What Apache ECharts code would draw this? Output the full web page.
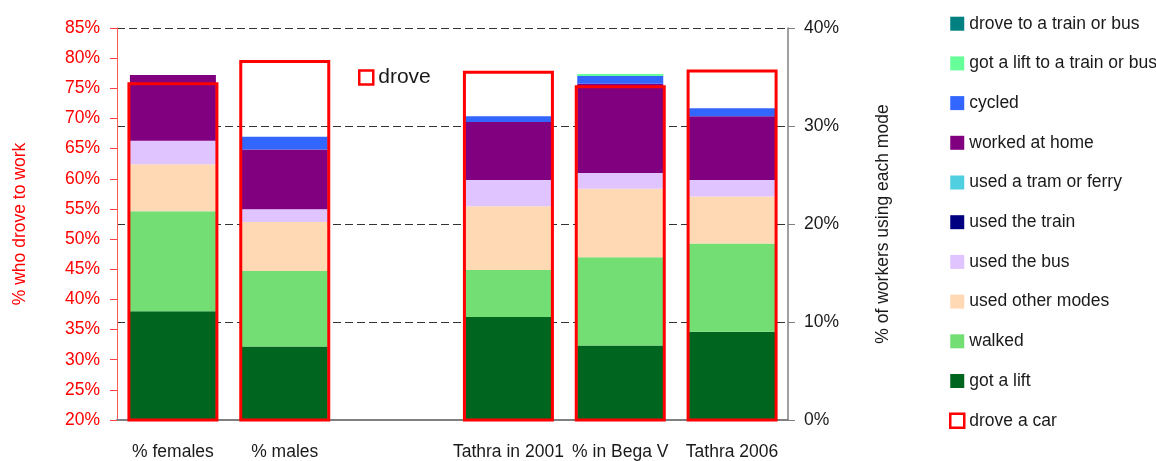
<!DOCTYPE html>
<html>
<head>
<meta charset="utf-8">
<title>Travel to work modes</title>
<script src="https://cdn.jsdelivr.net/npm/echarts@6/dist/echarts.min.js"></script>
<style>
  html, body { margin: 0; padding: 0; background: #ffffff; }
  #chart { width: 1156px; height: 461px; }
</style>
</head>
<body>
<div id="chart"></div>
<script>
// Groups along the bottom (the empty slot separates the two groups)
const categories = ['% females', '% males', '', 'Tathra in 2001', '% in Bega V', 'Tathra 2006'];

// % of workers using each mode (right axis), stacked bottom to top
const gotALift        = [11.1, 7.5, null, 10.5, 7.6, 9.0];
const walked          = [10.2, 7.7, null, 4.8, 9.0, 9.0];
const usedOtherModes  = [4.8, 5.0, null, 6.5, 7.0, 4.8];
const usedTheBus      = [2.4, 1.3, null, 2.7, 1.6, 1.7];
const usedTheTrain    = [0, 0, null, 0, 0, 0];
const usedTramFerry   = [0, 0, null, 0, 0, 0];
const workedAtHome    = [6.7, 6.1, null, 5.9, 9.1, 6.5];
const cycled          = [0, 1.3, null, 0.6, 0.8, 0.8];
const liftToTrainBus  = [0, 0, null, 0, 0.2, 0];
const droveToTrainBus = [0, 0, null, 0, 0, 0];

// % who drove to work (left axis), drawn as outlined bars
const droveACar = [76.0, 79.7, null, 77.9, 75.5, 78.1];

// Axis ranges and tick steps
const droveAxisRange = { min: 20, max: 85, step: 5 };
const modeAxisRange  = { min: 0, max: 40, step: 10 };

const FONT = '"Liberation Sans", Arial, Helvetica, sans-serif';
const TEXT = '#1a1a1a';

// Stack order, bottom to top, with fill colours
const modeSeries = [
  ['got a lift', gotALift, '#00661f'],
  ['walked', walked, '#73de73'],
  ['used other modes', usedOtherModes, '#ffd9b3'],
  ['used the bus', usedTheBus, '#dfc4ff'],
  ['used the train', usedTheTrain, '#000080'],
  ['used a tram or ferry', usedTramFerry, '#4fcfdf'],
  ['worked at home', workedAtHome, '#800080'],
  ['cycled', cycled, '#3366ff'],
  ['got a lift to a train or bus', liftToTrainBus, '#66ff99'],
  ['drove to a train or bus', droveToTrainBus, '#008080']
];

const series = modeSeries.map(([name, data, color]) => ({
  type: 'bar',
  name: name,
  data: data,
  stack: 'modes',
  xAxisIndex: 0,
  yAxisIndex: 1,
  barWidth: 86,
  itemStyle: { color: color },
  emphasis: { disabled: true },
  z: 2
}));

series.push({
  type: 'bar',
  name: 'drove a car',
  data: droveACar,
  xAxisIndex: 1,
  yAxisIndex: 0,
  barWidth: 91,
  itemStyle: { color: 'rgba(0,0,0,0)', borderColor: '#ff0000', borderWidth: 3 },
  emphasis: { disabled: true },
  z: 3
});

const redIcon = { color: '#ffffff', borderColor: '#ff0000', borderWidth: 2.5 };

// Legend reads top to bottom in reverse stack order
const legendItems = modeSeries.slice().reverse().map(([name]) => ({ name: name, icon: 'rect' }));
legendItems.push({ name: 'drove a car', icon: 'rect', itemStyle: redIcon });

const chart = echarts.init(document.getElementById('chart'), null, { renderer: 'canvas' });

chart.setOption({
  animation: false,
  backgroundColor: '#ffffff',
  textStyle: { fontFamily: FONT },
  grid: { left: 117, right: 368, top: 28, bottom: 39 },
  legend: [
    {
      orient: 'vertical',
      left: 949,
      top: 14.7,
      padding: 0,
      itemWidth: 14,
      itemHeight: 14,
      itemGap: 21.7,
      selectedMode: false,
      textStyle: { fontFamily: FONT, fontSize: 17.5, lineHeight: 18, color: TEXT },
      data: legendItems
    },
    {
      orient: 'vertical',
      left: 358,
      top: 67,
      padding: 0,
      itemWidth: 14,
      itemHeight: 14,
      selectedMode: false,
      formatter: () => 'drove',
      textStyle: { fontFamily: FONT, fontSize: 21, lineHeight: 21, color: TEXT },
      data: [{ name: 'drove a car', icon: 'rect', itemStyle: redIcon }]
    }
  ],
  xAxis: [
    {
      type: 'category',
      data: categories,
      position: 'bottom',
      axisLine: { lineStyle: { color: '#808080', width: 2 } },
      axisTick: { length: 6, lineStyle: { color: '#808080' } },
      axisLabel: { interval: 0, fontFamily: FONT, fontSize: 17.5, color: TEXT, margin: 23 },
      splitLine: { show: false }
    },
    {
      type: 'category',
      data: categories,
      position: 'bottom',
      show: false
    }
  ],
  yAxis: [
    {
      type: 'value',
      position: 'left',
      min: droveAxisRange.min,
      max: droveAxisRange.max,
      interval: droveAxisRange.step,
      name: '% who drove to work',
      nameLocation: 'middle',
      nameGap: 88,
      nameTextStyle: { fontFamily: FONT, fontSize: 17.5, color: '#ff0000' },
      axisLine: { show: true, lineStyle: { color: '#ff5a5a', width: 1 } },
      axisTick: { show: true, length: 7, lineStyle: { color: '#ff4040' } },
      axisLabel: { formatter: '{value}%', fontFamily: FONT, fontSize: 17.5, color: '#ff0000', margin: 17 },
      splitLine: { show: false }
    },
    {
      type: 'value',
      position: 'right',
      min: modeAxisRange.min,
      max: modeAxisRange.max,
      interval: modeAxisRange.step,
      name: '% of workers using each mode',
      nameLocation: 'middle',
      nameGap: 86,
      nameTextStyle: { fontFamily: FONT, fontSize: 17.5, color: TEXT },
      axisLine: { show: true, lineStyle: { color: '#808080', width: 1.5 } },
      axisTick: { show: true, length: 7, lineStyle: { color: '#808080' } },
      axisLabel: { formatter: '{value}%', fontFamily: FONT, fontSize: 17.5, color: TEXT, margin: 16 },
      splitLine: { show: true, lineStyle: { color: '#333333', width: 1, type: [8, 4] } }
    }
  ],
  series: series
});
</script>
</body>
</html>
